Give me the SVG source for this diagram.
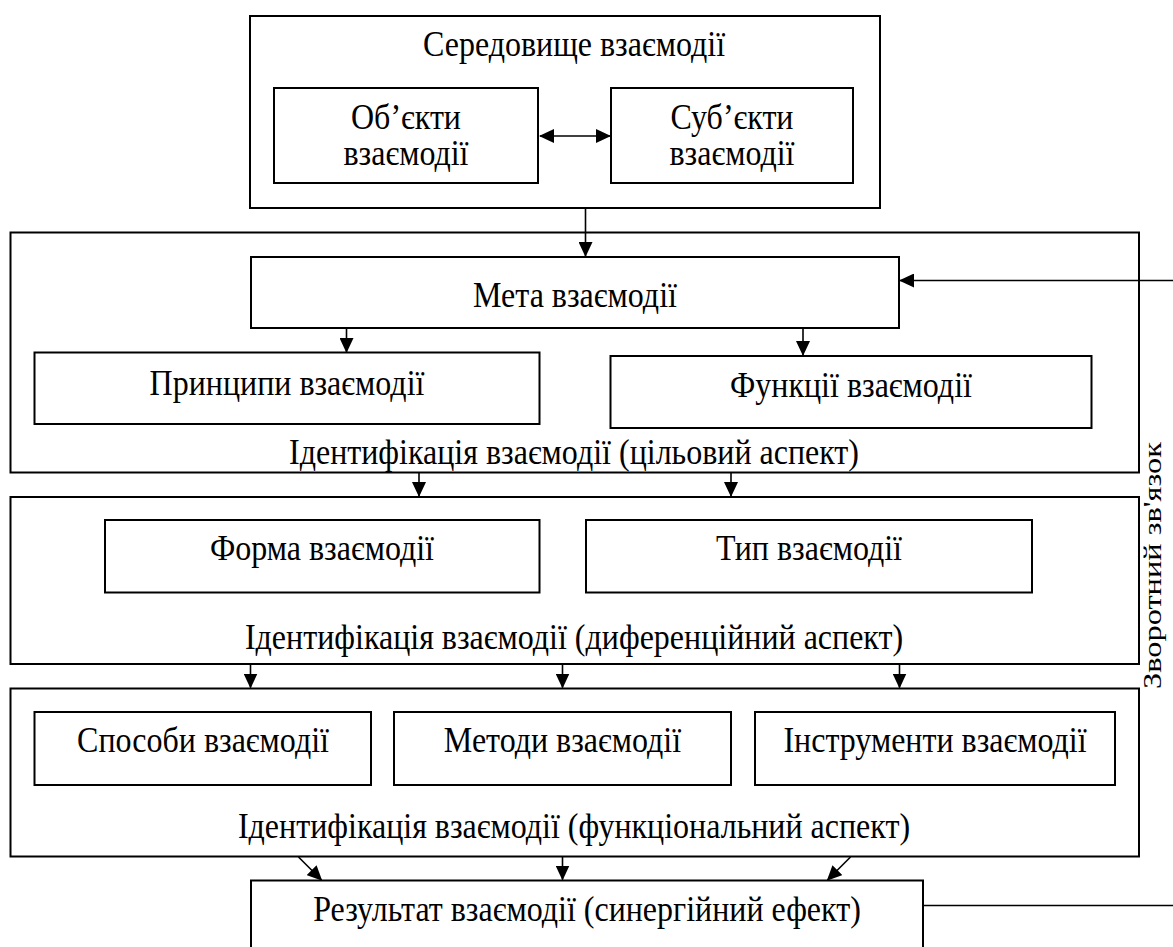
<svg xmlns="http://www.w3.org/2000/svg" width="1173" height="947" viewBox="0 0 1173 947">
<style>
.box{fill:#fff;stroke:#000;stroke-width:2}
.t{font-family:"Liberation Serif","Times New Roman",serif;font-size:32px;fill:#000;text-anchor:middle}
.c{stroke:#000;stroke-width:1.6;fill:none}
.a{marker-end:url(#ah)}
</style>
<defs>
<marker id="ah" markerUnits="userSpaceOnUse" markerWidth="15" markerHeight="14" refX="14" refY="7" orient="auto-start-reverse" viewBox="0 0 15 14">
<path d="M0,0 L15,7 L0,14 z" fill="#000"/>
</marker>
</defs>
<rect width="1173" height="947" fill="#fff"/>

<g id="env">
<rect class="box" x="250" y="16" width="630" height="192"/>
<text class="t" transform="translate(574,56) scale(1,1.1)">Середовище взаємодії</text>
</g>
<g id="objects">
<rect class="box" x="274" y="88" width="264" height="95"/>
<text class="t" transform="translate(406,129) scale(1,1.1)">Об’єкти</text>
<text class="t" transform="translate(406,165) scale(1,1.1)">взаємодії</text>
</g>
<g id="subjects">
<rect class="box" x="611" y="88" width="242" height="95"/>
<text class="t" transform="translate(732,129) scale(1,1.1)">Суб’єкти</text>
<text class="t" transform="translate(732,165) scale(1,1.1)">взаємодії</text>
</g>

<g id="sect1">
<rect class="box" x="10.5" y="232.5" width="1128.5" height="240"/>
<text class="t" transform="translate(574,464) scale(1,1.1)">Ідентифікація взаємодії (цільовий аспект)</text>
</g>
<g id="goal">
<rect class="box" x="251" y="257" width="648" height="71"/>
<text class="t" transform="translate(575,307) scale(1,1.1)">Мета взаємодії</text>
</g>
<g id="principles">
<rect class="box" x="34.5" y="352.5" width="505" height="71.5"/>
<text class="t" transform="translate(287,395) scale(1,1.1)">Принципи взаємодії</text>
</g>
<g id="functions">
<rect class="box" x="610.5" y="356" width="481" height="72"/>
<text class="t" transform="translate(851,397) scale(1,1.1)">Функції взаємодії</text>
</g>

<g id="sect2">
<rect class="box" x="10.5" y="497" width="1128.5" height="167"/>
<text class="t" transform="translate(574,649) scale(1,1.1)">Ідентифікація взаємодії (диференційний аспект)</text>
</g>
<g id="form">
<rect class="box" x="105" y="520" width="434.5" height="72.5"/>
<text class="t" transform="translate(322,560) scale(1,1.1)">Форма взаємодії</text>
</g>
<g id="type">
<rect class="box" x="586" y="520" width="446" height="72.5"/>
<text class="t" transform="translate(809,560) scale(1,1.1)">Тип взаємодії</text>
</g>

<g id="sect3">
<rect class="box" x="10.5" y="688.5" width="1128.5" height="168"/>
<text class="t" transform="translate(574,838) scale(1,1.1)">Ідентифікація взаємодії (функціональний аспект)</text>
</g>
<g id="ways">
<rect class="box" x="34.5" y="712" width="336.5" height="73"/>
<text class="t" transform="translate(203,752) scale(1,1.1)">Способи взаємодії</text>
</g>
<g id="methods">
<rect class="box" x="394" y="712" width="337" height="73"/>
<text class="t" transform="translate(562.5,752) scale(1,1.1)">Методи взаємодії</text>
</g>
<g id="tools">
<rect class="box" x="755" y="712" width="360" height="73"/>
<text class="t" transform="translate(935,752) scale(1,1.1)">Інструменти взаємодії</text>
</g>

<g id="result">
<rect class="box" x="251" y="880.5" width="672" height="90"/>
<text class="t" transform="translate(587,921) scale(1,1.1)">Результат взаємодії (синергійний ефект)</text>
</g>

<g id="feedback-label">
<text transform="translate(1161,689) rotate(-90)" style="font-family:'Liberation Serif','Times New Roman',serif;font-size:25px;fill:#000" textLength="247" lengthAdjust="spacingAndGlyphs">Зворотний зв'язок</text>
</g>

<g id="connectors">
<line class="c a" x1="540" y1="136" x2="610" y2="136" style="marker-start:url(#ah)"/>
<line class="c a" x1="585.5" y1="208" x2="585.5" y2="256"/>
<line class="c a" x1="346.5" y1="328" x2="346.5" y2="352"/>
<line class="c a" x1="803" y1="328" x2="803" y2="355"/>
<line class="c a" x1="1173" y1="280.5" x2="900" y2="280.5"/>
<line class="c a" x1="419" y1="472.5" x2="419" y2="496"/>
<line class="c a" x1="731" y1="472.5" x2="731" y2="496"/>
<line class="c a" x1="250.5" y1="664" x2="250.5" y2="687.5"/>
<line class="c a" x1="562.5" y1="664" x2="562.5" y2="687.5"/>
<line class="c a" x1="899.5" y1="664" x2="899.5" y2="687.5"/>
<line class="c a" x1="298.5" y1="857" x2="321.5" y2="880"/>
<line class="c a" x1="562.5" y1="857" x2="562.5" y2="879.5"/>
<line class="c a" x1="850.5" y1="857" x2="827.5" y2="880"/>
<line class="c" x1="923" y1="905.5" x2="1173" y2="905.5"/>
</g>
</svg>
